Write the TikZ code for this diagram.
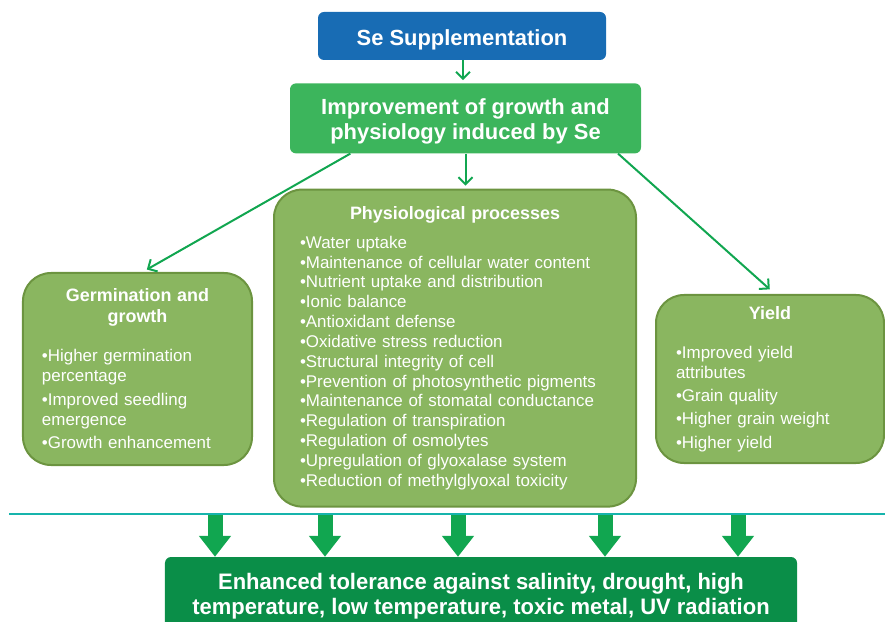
\documentclass[tikz,border=0pt]{standalone}
\usepackage{fontspec}
\setmainfont{Liberation Sans}
\newfontfamily\narrowbold[FakeStretch=0.98]{Liberation Sans Bold}
\usetikzlibrary{arrows.meta, positioning}

\definecolor{seblue}{RGB}{24,108,180}
\definecolor{impgreen}{RGB}{60,181,92}
\definecolor{panelfill}{RGB}{138,182,96}
\definecolor{paneledge}{RGB}{108,148,64}
\definecolor{arrowgreen}{RGB}{17,166,80}
\definecolor{tolgreen}{RGB}{10,142,72}
\definecolor{rulecyan}{RGB}{22,180,172}

% bullet line and panel heading
\newcommand{\itm}[1]{\textbullet#1\par}
\newcommand{\panelhead}[1]{{\centering\bfseries\fontsize{18}{21}\selectfont #1\par}}

\begin{document}
\begin{tikzpicture}[
        x=1bp, y=-1bp,
        topbox/.style={
            rectangle, rounded corners=6bp,
            text=white, align=center,
            font=\bfseries\fontsize{22}{25}\selectfont
        },
        panel/.style={
            draw=paneledge, line width=2bp, fill=panelfill,
            rectangle, rounded corners=28bp,
            text=white, align=left, inner sep=0pt,
            font=\fontsize{17}{19.9}\selectfont
        },
        link/.style={draw=arrowgreen, line width=2bp, -{Straight Barb[length=7bp, width=14bp]}},
        fat/.style={draw=arrowgreen, line width=15bp, -{Triangle[length=21bp, width=31bp]}}
    ]
    \useasboundingbox (0,0) rectangle (885,622);

    % Top of the chain
    \node[topbox, fill=seblue, minimum width=288bp, minimum height=48bp] (se) at (462,36)
        {\rule{0pt}{23bp}Se Supplementation};
    \node[topbox, fill=impgreen, minimum width=351bp, minimum height=70bp, below=23bp of se, xshift=3.5bp] (imp)
        {\rule{0pt}{22bp}Improvement of growth and\\physiology induced by Se};

    % Three panels
    \node[panel, minimum width=362bp, minimum height=317bp, text width=310bp, below=35bp of imp, xshift=-10.5bp] (phys) {%
        \panelhead{Physiological processes}\vspace{9bp}
        \itm{Water uptake}
        \itm{Maintenance of cellular water content}
        \itm{Nutrient uptake and distribution}
        \itm{Ionic balance}
        \itm{Antioxidant defense}
        \itm{Oxidative stress reduction}
        \itm{Structural integrity of cell}
        \itm{Prevention of photosynthetic pigments}
        \itm{Maintenance of stomatal conductance}
        \itm{Regulation of transpiration}
        \itm{Regulation of osmolytes}
        \itm{Upregulation of glyoxalase system}
        \itm{Reduction of methylglyoxal toxicity}};

    \node[panel, minimum width=229bp, minimum height=192bp, text width=191bp] (germ) at (137.5,369) {%
        \panelhead{Germination and\\growth}\vspace{19bp}
        \itm{Higher germination\newline percentage}\vspace{4bp}
        \itm{Improved seedling\newline emergence}\vspace{4bp}
        \itm{Growth enhancement}};

    \node[panel, minimum width=228bp, minimum height=168bp, text width=188bp] (yield) at (770,379) {%
        \panelhead{Yield}\vspace{19bp}
        \itm{Improved yield\newline attributes}\vspace{3.5bp}
        \itm{Grain quality}\vspace{3.5bp}
        \itm{Higher grain weight}\vspace{3.5bp}
        \itm{Higher yield}};

    % Bottom result
    \node[rectangle, rounded corners=6bp, fill=tolgreen, text=white, align=center,
          font=\narrowbold\fontsize{22.5}{25}\selectfont,
          minimum width=632bp, minimum height=79bp] (tol) at (481,596.5)
        {Enhanced tolerance against salinity, drought, high\\temperature, low temperature, toxic metal, UV radiation};

    % Thin arrows
    \draw[link, shorten >=3bp] ([xshift=1bp]se.south) -- ([xshift=1bp]se.south |- imp.north);
    \draw[link, shorten >=3bp] (imp.south) -- (imp.south |- phys.north);
    \draw[link, shorten >=5bp] (imp.197) -- ([xshift=5bp]germ.north);
    \draw[link, shorten >=7bp] (imp.347) -- ([xshift=5bp]yield.north);

    % Rule and block arrows
    \coordinate (ruleL) at (9,514);
    \coordinate (ruleR) at (885,514);
    \draw[rulecyan, line width=1.5bp] (ruleL) -- (ruleR);
    \foreach \x [count=\i] in {215,325,458,605,738} {
        \coordinate (r\i) at (\x,515);
        \draw[fat] (r\i) -- (r\i |- tol.north);
    }
\end{tikzpicture}
\end{document}
